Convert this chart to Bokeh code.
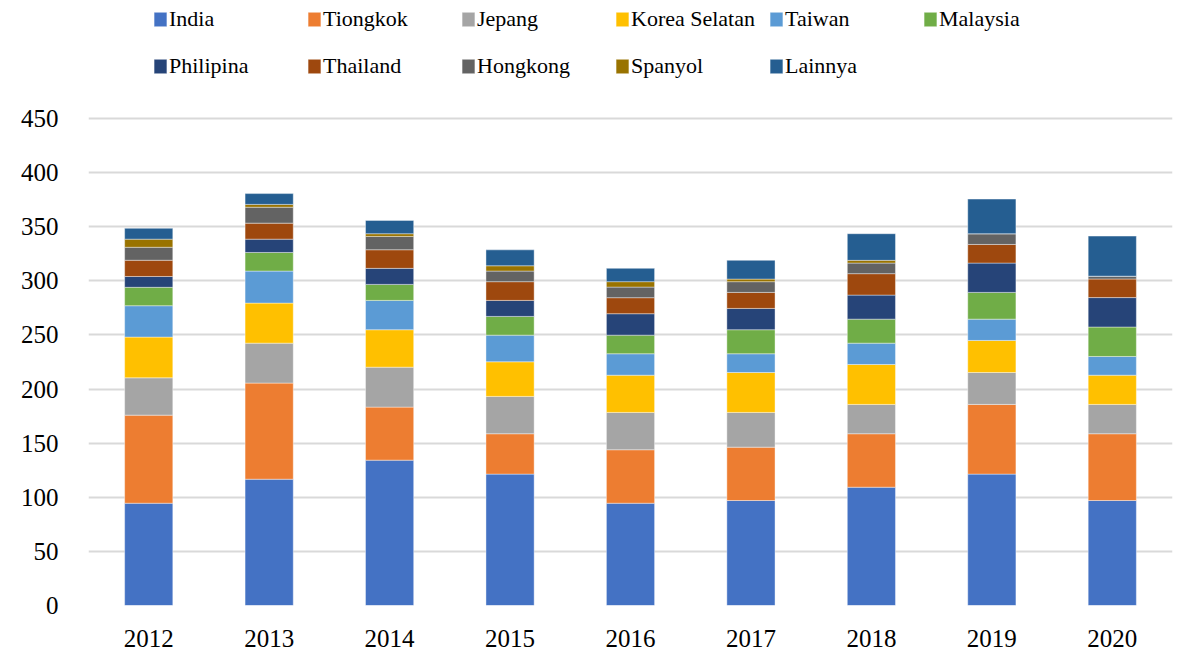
from bokeh.plotting import figure
from bokeh.models import Range1d, Legend, LegendItem, FixedTicker
from bokeh.embed import file_html
from bokeh.resources import INLINE

years = ["2012", "2013", "2014", "2015", "2016", "2017", "2018", "2019", "2020"]
series = ["India", "Tiongkok", "Jepang", "Korea Selatan", "Taiwan", "Malaysia",
          "Philipina", "Thailand", "Hongkong", "Spanyol", "Lainnya"]

india = [94.5, 116.7, 134.3, 121.4, 94.5, 97.0, 109.3, 121.4, 97.0]
tiongkok = [81.4, 88.8, 49.0, 37.3, 49.4, 49.3, 49.4, 64.4, 61.7]
jepang = [34.5, 36.9, 36.9, 34.5, 34.5, 32.1, 27.1, 29.5, 27.1]
korea = [37.6, 37.0, 34.6, 32.0, 34.4, 36.9, 36.9, 29.6, 27.0]
taiwan = [29.0, 29.6, 27.1, 24.6, 19.8, 17.3, 19.7, 19.7, 17.3]
malaysia = [17.0, 17.2, 14.8, 17.3, 17.2, 22.2, 22.2, 24.7, 27.2]
philipina = [10.0, 12.3, 14.8, 14.8, 19.8, 19.7, 22.2, 27.1, 27.2]
thailand = [15.0, 14.8, 17.2, 17.3, 14.8, 14.8, 19.8, 17.2, 17.2]
hongkong = [12.0, 14.7, 12.3, 9.8, 9.8, 9.9, 9.8, 9.9, 2.6]
spanyol = [7.5, 2.6, 2.5, 4.9, 5.0, 2.4, 2.5, 0.0, 0.0]
lainnya = [10.0, 10.0, 12.3, 14.7, 12.3, 17.3, 24.6, 32.0, 37.0]

y_ticks = [0, 50, 100, 150, 200, 250, 300, 350, 400, 450]

colors = ["#4472C4", "#ED7D31", "#A5A5A5", "#FFC000", "#5B9BD5", "#70AD47",
          "#264478", "#9E480E", "#636363", "#997300", "#255E91"]

data = {"year": years}
for name, vals in zip(series, [india, tiongkok, jepang, korea, taiwan, malaysia,
                               philipina, thailand, hongkong, spanyol, lainnya]):
    data[name] = vals

p = figure(x_range=years, y_range=Range1d(0, 559.0), width=1180, height=652,
           output_backend="svg", toolbar_location=None,
           min_border_left=88, min_border_right=8, min_border_top=0, min_border_bottom=47)

renderers = p.vbar_stack(series, x="year", width=0.4, source=data, color=colors,
                         line_color="white", line_alpha=0.5, line_width=0.8)

p.outline_line_color = None
p.background_fill_color = "white"
p.xgrid.grid_line_color = None
p.ygrid.grid_line_color = "#D9D9D9"
p.ygrid.grid_line_width = 2
p.yaxis.ticker = FixedTicker(ticks=y_ticks)

for ax in [p.xaxis[0], p.yaxis[0]]:
    ax.axis_line_color = None
    ax.major_tick_line_color = None
    ax.minor_tick_line_color = None
    ax.major_label_text_font = "Liberation Serif"
    ax.major_label_text_font_size = "25px"
    ax.major_label_text_color = "#000000"
p.yaxis.major_label_standoff = 24
p.xaxis.major_label_standoff = 18

items1 = [LegendItem(label=series[i], renderers=[renderers[i]]) for i in range(6)]
items2 = [LegendItem(label=series[i], renderers=[renderers[i]]) for i in range(6, 11)]

def make_legend(items, loc):
    return Legend(items=items, location=loc, orientation="horizontal",
                  glyph_width=16, glyph_height=18, label_standoff=1,
                  label_width=127, label_height=18, spacing=10, padding=0, margin=0,
                  border_line_color=None, background_fill_alpha=0,
                  label_text_font="Liberation Serif", label_text_font_size="22px",
                  label_text_color="#000000")

p.add_layout(make_legend(items1, (64, 573)))
p.add_layout(make_legend(items2, (64, 526)))

open("out.html", "w").write(file_html(p, INLINE))
